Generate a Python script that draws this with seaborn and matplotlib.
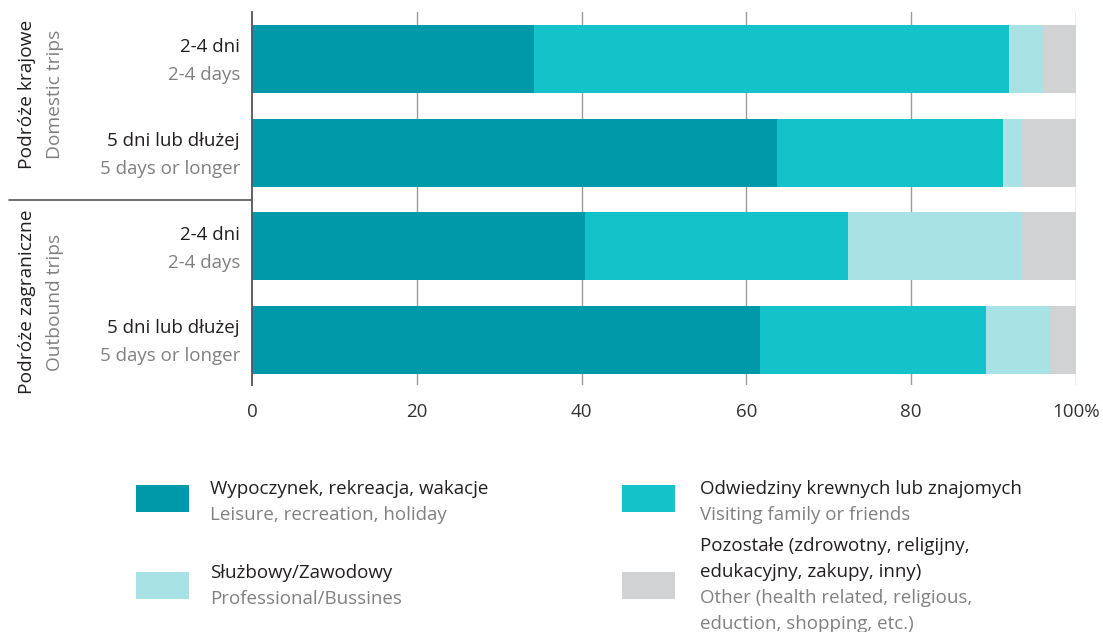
import numpy as np
import pandas as pd
import matplotlib
matplotlib.use('Agg')
import matplotlib.pyplot as plt
import seaborn as sns
from matplotlib.patches import Rectangle
from matplotlib.lines import Line2D

# Dane (udział w %)
wiersze = ['krajowe_2-4', 'krajowe_5+', 'zagraniczne_2-4', 'zagraniczne_5+']
etykiety_pl = ['2-4 dni', '5 dni lub dłużej', '2-4 dni', '5 dni lub dłużej']
etykiety_en = ['2-4 days', '5 days or longer', '2-4 days', '5 days or longer']
wypoczynek = [34.2, 63.7, 40.4, 61.6]
odwiedziny = [57.7, 27.5, 31.9, 27.5]
sluzbowy = [4.1, 2.3, 21.2, 7.8]
pozostale = [4.0, 6.5, 6.6, 3.1]
ticki = [0, 20, 40, 60, 80, 100]
tick_etykiety = ['0', '20', '40', '60', '80', '100%']

kolory = ['#0099a9', '#14c3c9', '#a8e2e4', '#d1d2d4']
legenda_pl = [['Wypoczynek, rekreacja, wakacje'], ['Służbowy/Zawodowy'],
              ['Odwiedziny krewnych lub znajomych'],
              ['Pozostałe (zdrowotny, religijny,', 'edukacyjny, zakupy, inny)']]
legenda_en = [['Leisure, recreation, holiday'], ['Professional/Bussines'],
              ['Visiting family or friends'],
              ['Other (health related, religious,', 'eduction, shopping, etc.)']]

sns.set_style('white')
plt.rcParams['font.family'] = ['Open Sans', 'DejaVu Sans']

CZARNY = '#231f20'
SZARY = '#808080'

df = pd.DataFrame({'wiersz': wiersze, 'w': wypoczynek, 'o': odwiedziny,
                   's': sluzbowy, 'p': pozostale})
# skumulowane
df['c1'] = df['w']
df['c2'] = df['c1'] + df['o']
df['c3'] = df['c2'] + df['s']
df['c4'] = df['c3'] + df['p']

W, H = 1103, 632
fig = plt.figure(figsize=(W / 100, H / 100), dpi=100)
ax = fig.add_axes([252 / W, 1 - 385 / H, 824 / W, 373 / H])

for kol, c in zip(['c4', 'c3', 'c2', 'c1'], kolory[::-1]):
    sns.barplot(data=df, x=kol, y='wiersz', orient='h', color=c,
                width=0.726, saturation=1, linewidth=0, ax=ax, zorder=2)

ax.set_xlim(0, 100)
ax.set_ylim(3.48, -0.5)
ax.set_xticks(ticks=ticki, labels=tick_etykiety)
ax.tick_params(axis='x', length=0, labelsize=13.5, colors='#333333', pad=13)
ax.set_yticks([])
ax.set_xlabel('')
ax.set_ylabel('')
for s in ['top', 'right', 'bottom']:
    ax.spines[s].set_visible(False)
ax.spines['left'].set_color('#555555')
ax.spines['left'].set_linewidth(1.3)
ax.spines['left'].set_zorder(3)
for t in ticki[1:]:
    ax.axvline(t, color='#9a9a9a', lw=1, zorder=0)

# etykiety wierszy
tr = ax.get_yaxis_transform()
for i in range(len(wiersze)):
    ax.text(-0.0146, i - 0.125, etykiety_pl[i], transform=tr, ha='right',
            va='center', fontsize=13.5, color=CZARNY)
    ax.text(-0.0146, i + 0.175, etykiety_en[i], transform=tr, ha='right',
            va='center', fontsize=13.5, color=SZARY)

# etykiety grup
def px(x, y):
    return x / W, 1 - y / H

fig.text(*px(27, 94), 'Podróże krajowe', rotation=90, ha='center', va='center',
         fontsize=13.8, color=CZARNY)
fig.text(*px(55, 94), 'Domestic trips', rotation=90, ha='center', va='center',
         fontsize=13.8, color=SZARY)
fig.text(*px(27, 302), 'Podróże zagraniczne', rotation=90, ha='center', va='center',
         fontsize=13.8, color=CZARNY)
fig.text(*px(55, 302), 'Outbound trips', rotation=90, ha='center', va='center',
         fontsize=13.8, color=SZARY)
fig.add_artist(Line2D([9 / W, 252 / W], [1 - 200 / H] * 2, color='#555555', lw=1.2))

# legenda
poz = [(136, 485, 210, 489), (136, 572, 210, 573), (622, 485, 700, 489), (622, 572, 700, 546)]
kol_leg = [kolory[0], kolory[2], kolory[1], kolory[3]]
for (x0, y0, tx, ty), c, pl, en in zip(poz, kol_leg, legenda_pl, legenda_en):
    fig.add_artist(Rectangle(px(x0, y0 + 27), 53 / W, 27 / H, color=c, lw=0))
    y = ty
    for linia in pl:
        fig.text(*px(tx, y), linia, ha='left', va='center', fontsize=13.5, color=CZARNY)
        y += 26
    for linia in en:
        fig.text(*px(tx, y), linia, ha='left', va='center', fontsize=13.5, color=SZARY)
        y += 26

fig.savefig('out.png', dpi=100)
